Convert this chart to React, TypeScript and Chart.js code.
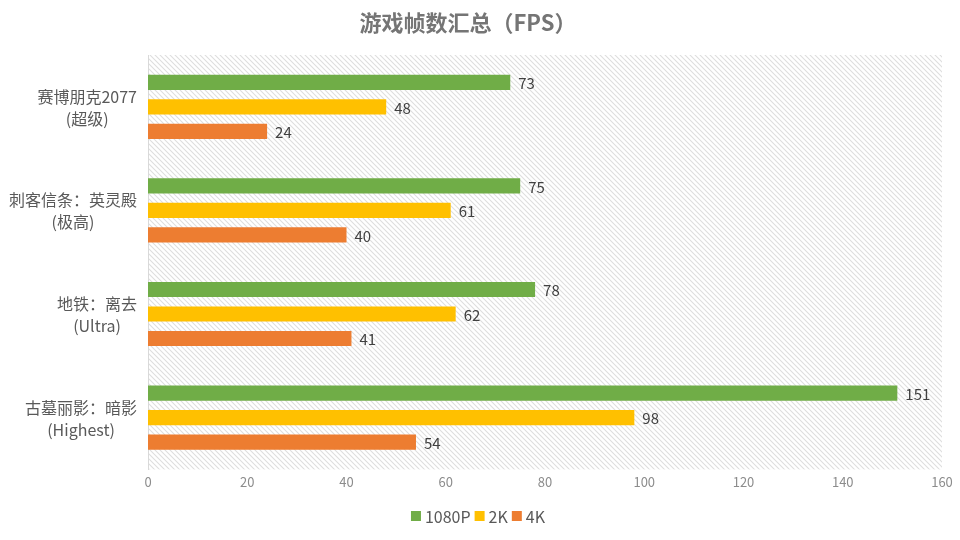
import React, { useEffect, useRef } from "react";
import { Chart, registerables } from "chart.js";

Chart.register(...registerables);

const title = "游戏帧数汇总（FPS）";
const categories: string[][] = [
  ["赛博朋克2077", "(超级)"],
  ["刺客信条：英灵殿", "(极高)"],
  ["地铁：离去", "(Ultra)"],
  ["古墓丽影：暗影", "(Highest)"],
];
const seriesNames = ["1080P", "2K", "4K"];
const fps1080p = [73, 75, 78, 151];
const fps2k = [48, 61, 62, 98];
const fps4k = [24, 40, 41, 54];
const seriesColors = ["#70AD47", "#FFC000", "#ED7D31"];
const xTicks = { min: 0, max: 160, step: 20 };
const FONT = "'Noto Sans CJK SC', 'Noto Sans', sans-serif";

const hatchPlugin = {
  id: "hatch",
  beforeDraw(chart: any) {
    const { ctx, chartArea } = chart;
    if (!chartArea) return;
    const p = document.createElement("canvas");
    p.width = 5;
    p.height = 5;
    const pc = p.getContext("2d")!;
    pc.fillStyle = "#ffffff";
    pc.fillRect(0, 0, 5, 5);
    pc.strokeStyle = "#dedede";
    pc.lineWidth = 1.1;
    pc.beginPath();
    pc.moveTo(-1, -1);
    pc.lineTo(6, 6);
    pc.moveTo(-4, 1);
    pc.lineTo(4, 9);
    pc.moveTo(1, -4);
    pc.lineTo(9, 4);
    pc.stroke();
    const pattern = ctx.createPattern(p, "repeat");
    ctx.save();
    ctx.fillStyle = pattern;
    ctx.fillRect(chartArea.left, chartArea.top, chartArea.right - chartArea.left, chartArea.bottom - chartArea.top);
    ctx.restore();
  },
};

const labelsPlugin = {
  id: "customLabels",
  afterDatasetsDraw(chart: any) {
    const { ctx } = chart;
    ctx.save();
    ctx.font = `15px ${FONT}`;
    ctx.fillStyle = "#404040";
    ctx.textBaseline = "middle";
    ctx.textAlign = "left";
    chart.data.datasets.forEach((ds: any, i: number) => {
      const meta = chart.getDatasetMeta(i);
      meta.data.forEach((bar: any, j: number) => {
        ctx.fillText(String(ds.data[j]), bar.x + 8, bar.y + 1);
      });
    });
    // category labels
    const yScale = chart.scales.y;
    const rightEdge = chart.chartArea.left - 11;
    ctx.font = `16px ${FONT}`;
    categories.forEach((lines, j) => {
      const cy = yScale.getPixelForValue(j);
      const w0 = ctx.measureText(lines[0]).width;
      ctx.fillStyle = "#595959";
      ctx.textAlign = "right";
      ctx.fillText(lines[0], rightEdge, cy - 10);
      ctx.textAlign = "center";
      ctx.fillText(lines[1], rightEdge - w0 / 2, cy + 12);
    });
    // title
    ctx.font = `bold 22px ${FONT}`;
    ctx.fillStyle = "#757575";
    ctx.textAlign = "center";
    ctx.fillText(title, 468, 23);
    // legend
    ctx.font = `16px ${FONT}`;
    ctx.textAlign = "left";
    const box = 10;
    const gapBoxText = 4;
    const gapItems = 4;
    const widths = seriesNames.map((n) => ctx.measureText(n).width);
    const total = widths.reduce((a, w) => a + box + gapBoxText + w, 0) + gapItems * (seriesNames.length - 1);
    let x = 478 - total / 2;
    const ly = 516;
    seriesNames.forEach((n, i) => {
      ctx.fillStyle = seriesColors[i];
      ctx.fillRect(x, ly - box / 2, box, box);
      x += box + gapBoxText;
      ctx.fillStyle = "#595959";
      ctx.fillText(n, x, ly + 1);
      x += widths[i] + gapItems;
    });
    ctx.restore();
  },
};

export default function App() {
  const ref = useRef<HTMLCanvasElement>(null);
  useEffect(() => {
    const chart = new Chart(ref.current!, {
      type: "bar",
      data: {
        labels: categories.map((c) => c.join(" ")),
        datasets: [fps1080p, fps2k, fps4k].map((d, i) => ({
          label: seriesNames[i],
          data: d,
          backgroundColor: seriesColors[i],
          categoryPercentage: 0.71,
          barPercentage: 0.62,
        })),
      },
      options: {
        indexAxis: "y",
        animation: false,
        responsive: false,
        maintainAspectRatio: false,
        layout: { padding: { left: 0, right: 18, top: 55, bottom: 45 } },
        scales: {
          x: {
            min: xTicks.min,
            max: xTicks.max,
            ticks: { stepSize: xTicks.step, color: "#8c8c8c", font: { family: FONT, size: 13 }, padding: 5 },
            grid: { display: false, drawTicks: false },
            border: { display: false },
          },
          y: {
            afterFit: (scale: any) => {
              scale.width = 148;
            },
            ticks: { display: false },
            grid: { display: false, drawTicks: false },
            border: { display: true, color: "#d9d9d9" },
          },
        },
        plugins: {
          title: { display: false },
          legend: { display: false },
          tooltip: { enabled: false },
        },
      },
      plugins: [hatchPlugin, labelsPlugin],
    });
    return () => chart.destroy();
  }, []);
  return (
    <div style={{ position: "fixed", left: 0, top: 0, width: 960, height: 540, background: "#fff" }}>
      <canvas ref={ref} width={960} height={540} />
    </div>
  );
}
